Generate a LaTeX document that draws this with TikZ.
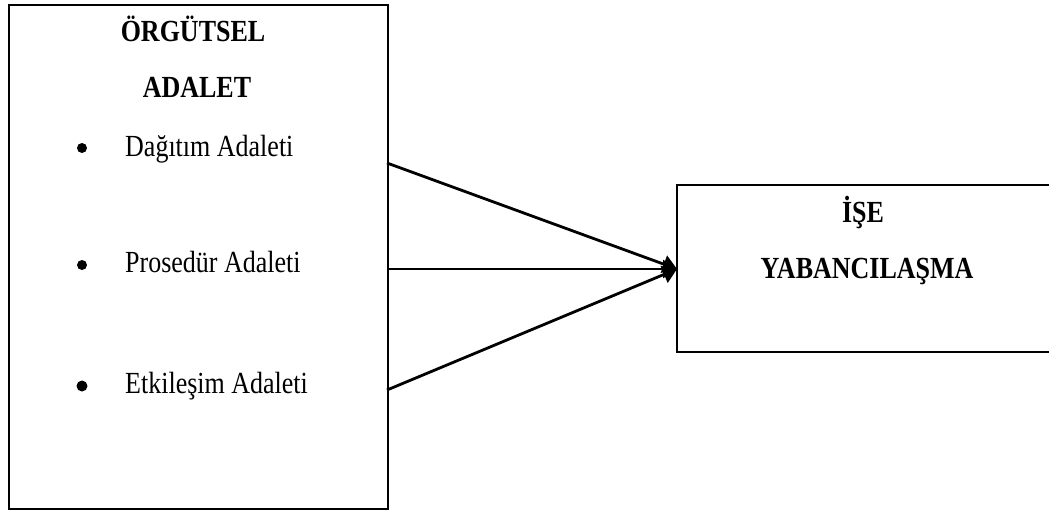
\documentclass[tikz,border=0pt]{standalone}
\usepackage{fontspec}
\usepackage{graphicx}
\setmainfont{Liberation Serif}
\usetikzlibrary{arrows.meta}
\newcommand{\vst}[1]{\scalebox{1}[1.18]{#1}}
\begin{document}
\begin{tikzpicture}[x=1pt,y=-1pt,
  boxline/.style={draw=black,line width=2.2pt},
  txt/.style={inner sep=0pt,anchor=base west,font=\fontsize{26}{30}\selectfont},
  head/.style={inner sep=0pt,anchor=base,font=\fontsize{26}{30}\selectfont\bfseries},
  dot/.style={circle,fill=black,inner sep=0pt,minimum size=10pt},
  conn/.style={line width=2.8pt,-{Triangle[length=14pt,width=18pt]}}]
\useasboundingbox (0,0) rectangle (1049,515);
% left box
\node[boxline,minimum width=379pt,minimum height=504pt,anchor=north west,inner sep=0pt] (L) at (8,4) {};
\node[head] (h1) at (193,41) {\vst{ÖRGÜTSEL}};
\node[head] (h2) at (197,97) {\vst{ADALET}};
\node[dot] (b1) at (82,148) {};
\node[txt] (t1) at (125,156) {\vst{Dağıtım Adaleti}};
\node[dot] (b2) at (82,265) {};
\node[txt] (t2) at (125,272) {\vst{Prosedür Adaleti}};
\node[dot,minimum size=11pt] (b3) at (82,386) {};
\node[txt] (t3) at (125,393) {\vst{Etkileşim Adaleti}};
% right box (open on the right side)
\coordinate (RTL) at (677,185);
\coordinate (RBL) at (677,352);
\coordinate (RTR) at (1052,185);
\coordinate (RBR) at (1052,352);
\draw[line width=2.2pt] (RTR) -- (RTL) -- (RBL) -- (RBR);
\coordinate (R) at (677,269);
\node[head] (r1) at (863,222) {\vst{İŞE}};
\node[head] (r2) at (867,278) {\vst{YABANCILAŞMA}};
% connectors
\coordinate (s1) at (387,163);
\coordinate (s2) at (387,269);
\coordinate (s3) at (387,390);
\draw[conn] (s1) -- (R);
\draw[conn] (s2) -- (R);
\draw[conn] (s3) -- (R);
\end{tikzpicture}
\end{document}
